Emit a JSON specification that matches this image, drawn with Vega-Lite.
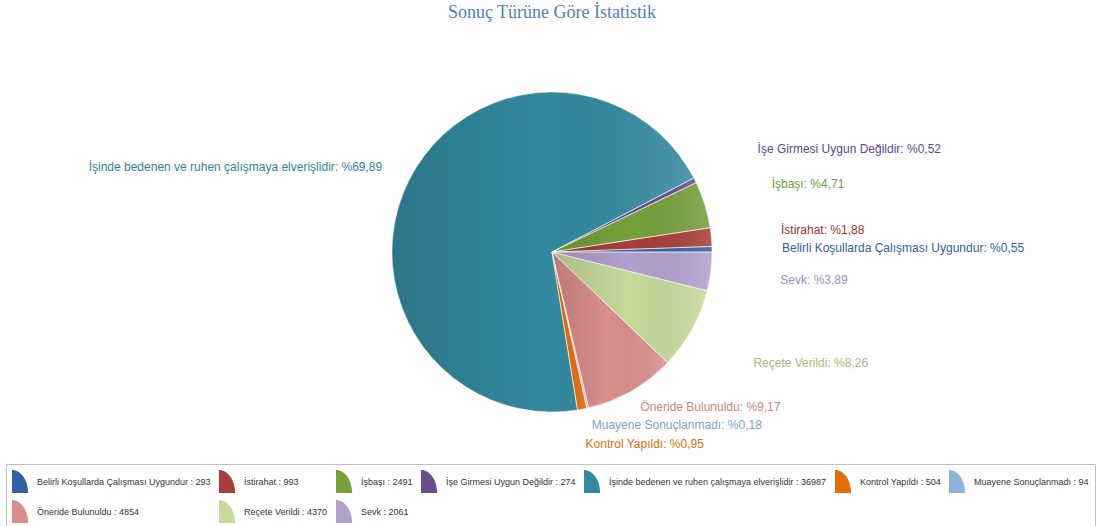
{
  "$schema": "https://vega.github.io/schema/vega-lite/v6.json",
  "width": 1104,
  "height": 444,
  "padding": {"left": 0, "right": 0, "top": 4, "bottom": 0},
  "background": "white",
  "title": {"text": "Sonuç Türüne Göre İstatistik", "font": "Liberation Serif", "fontSize": 18, "fontWeight": "normal", "color": "#4f81bd", "anchor": "middle", "offset": 8},
  "config": {"view": {"stroke": null}},
  "data": {"values": [
    {"name": "Belirli Koşullarda Çalışması Uygundur", "count": 293, "legend": "Belirli Koşullarda Çalışması Uygundur : 293", "label": "Belirli Koşullarda Çalışması Uygundur: %0,55"},
    {"name": "İstirahat", "count": 993, "legend": "İstirahat : 993", "label": "İstirahat: %1,88"},
    {"name": "İşbaşı", "count": 2491, "legend": "İşbaşı : 2491", "label": "İşbaşı: %4,71"},
    {"name": "İşe Girmesi Uygun Değildir", "count": 274, "legend": "İşe Girmesi Uygun Değildir : 274", "label": "İşe Girmesi Uygun Değildir: %0,52"},
    {"name": "İşinde bedenen ve ruhen çalışmaya elverişlidir", "count": 36987, "legend": "İşinde bedenen ve ruhen çalışmaya elverişlidir : 36987", "label": "İşinde bedenen ve ruhen çalışmaya elverişlidir: %69,89"},
    {"name": "Kontrol Yapıldı", "count": 504, "legend": "Kontrol Yapıldı : 504", "label": "Kontrol Yapıldı: %0,95"},
    {"name": "Muayene Sonuçlanmadı", "count": 94, "legend": "Muayene Sonuçlanmadı : 94", "label": "Muayene Sonuçlanmadı: %0,18"},
    {"name": "Öneride Bulunuldu", "count": 4854, "legend": "Öneride Bulunuldu : 4854", "label": "Öneride Bulunuldu: %9,17"},
    {"name": "Reçete Verildi", "count": 4370, "legend": "Reçete Verildi : 4370", "label": "Reçete Verildi: %8,26"},
    {"name": "Sevk", "count": 2061, "legend": "Sevk : 2061", "label": "Sevk: %3,89"}
  ]},
  "transform": [{"window": [{"op": "row_number", "as": "rank"}]}],
  "encoding": {
    "theta": {"field": "count", "type": "quantitative", "stack": true, "scale": {"range": [1.5708, -4.7124]}},
    "order": {"field": "rank", "type": "quantitative"}
  },
  "layer": [
    {
      "mark": {"type": "arc", "outerRadius": 160},
      "encoding": {
        "color": {
          "field": "legend", "type": "nominal", "sort": null,
          "scale": {
            "domain": ["Belirli Koşullarda Çalışması Uygundur : 293", "İstirahat : 993", "İşbaşı : 2491", "İşe Girmesi Uygun Değildir : 274", "İşinde bedenen ve ruhen çalışmaya elverişlidir : 36987", "Kontrol Yapıldı : 504", "Muayene Sonuçlanmadı : 94", "Öneride Bulunuldu : 4854", "Reçete Verildi : 4370", "Sevk : 2061"],
            "range": ["#2f62a3", "#a83d39", "#76a03c", "#6a4b8e", "#33899f", "#e46c0a", "#8eb2db", "#da8e8b", "#c6da9c", "#b2a1cc"]
          },
          "legend": {
            "orient": "none", "legendX": 6, "legendY": 434,
            "direction": "horizontal", "columns": 7, "title": null,
            "symbolType": "M -1 1 L -1 -1 A 1.4 2 0 0 1 0.4 1 Z",
            "symbolSize": 529, "symbolStrokeWidth": 0, "symbolOpacity": 1,
            "labelFont": "Liberation Sans", "labelFontSize": 9, "labelColor": "#333333", "labelLimit": 0,
            "labelOffset": 2, "columnPadding": 8, "rowPadding": 7,
            "padding": 6, "strokeColor": "#c0c0c0", "fillColor": "#ffffff"
          }
        }
      }
    },
    {
      "mark": {"type": "arc", "outerRadius": 160, "stroke": "#ffffff", "strokeWidth": 0.6, "strokeOpacity": 0.8,
        "fill": {"gradient": "linear", "x1": 0, "y1": 0, "x2": 1, "y2": 0, "stops": [{"offset": 0, "color": "rgba(0,0,0,0.14)"}, {"offset": 0.5, "color": "rgba(0,0,0,0)"}, {"offset": 1, "color": "rgba(255,255,255,0.14)"}]}}
    },
    {
      "mark": {"type": "text", "radius": 230, "align": "left", "baseline": "middle", "font": "Liberation Sans", "fontSize": 12},
      "encoding": {
        "text": {"condition": {"test": "indexof(['İşe Girmesi Uygun Değildir', 'İşbaşı', 'İstirahat', 'Belirli Koşullarda Çalışması Uygundur', 'Sevk', 'Reçete Verildi'], datum.name) >= 0", "field": "label"}, "value": ""},
        "fill": {"field": "name", "type": "nominal", "legend": null, "scale": {"domain": ["Belirli Koşullarda Çalışması Uygundur", "İstirahat", "İşbaşı", "İşe Girmesi Uygun Değildir", "İşinde bedenen ve ruhen çalışmaya elverişlidir", "Kontrol Yapıldı", "Muayene Sonuçlanmadı", "Öneride Bulunuldu", "Reçete Verildi", "Sevk"], "range": ["#2f5f9f", "#a0302d", "#6f9a37", "#60468a", "#31849b", "#e36c09", "#7f9fc8", "#c98480", "#a6b97e", "#9d8ebd"]}}
      }
    },
    {
      "mark": {"type": "text", "radius": 190, "align": "right", "baseline": "middle", "font": "Liberation Sans", "fontSize": 12},
      "encoding": {
        "text": {"condition": {"test": "datum.name === 'İşinde bedenen ve ruhen çalışmaya elverişlidir'", "field": "label"}, "value": ""},
        "fill": {"field": "name", "type": "nominal", "legend": null}
      }
    },
    {
      "mark": {"type": "text", "radius": 178, "align": "left", "baseline": "middle", "font": "Liberation Sans", "fontSize": 12},
      "encoding": {
        "text": {"condition": {"test": "datum.name === 'Öneride Bulunuldu' || datum.name === 'Muayene Sonuçlanmadı'", "field": "label"}, "value": ""},
        "fill": {"field": "name", "type": "nominal", "legend": null}
      }
    },
    {
      "mark": {"type": "text", "radius": 178, "align": "left", "baseline": "middle", "dy": 17, "font": "Liberation Sans", "fontSize": 12},
      "encoding": {
        "text": {"condition": {"test": "datum.name === 'Kontrol Yapıldı'", "field": "label"}, "value": ""},
        "fill": {"field": "name", "type": "nominal", "legend": null}
      }
    }
  ]
}
